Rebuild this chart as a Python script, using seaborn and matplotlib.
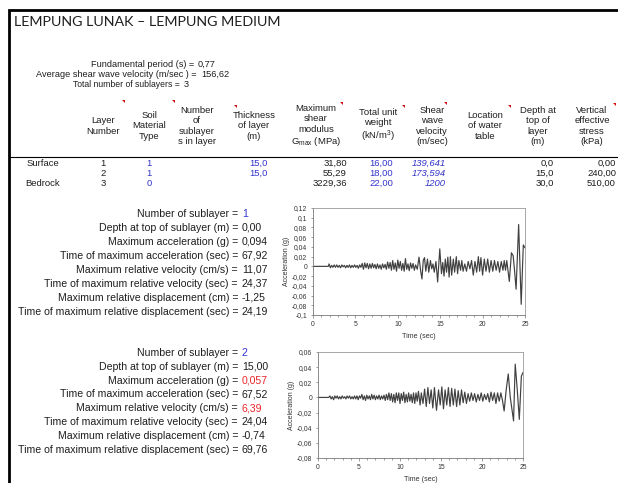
import matplotlib
matplotlib.use("Agg")
import matplotlib.pyplot as plt
import seaborn as sns
import pandas as pd
from matplotlib.ticker import FuncFormatter, MultipleLocator

sns.set_theme(style="white")
plt.rcParams['font.family'] = ['Liberation Sans', 'DejaVu Sans']
plt.rcParams['mathtext.fontset'] = 'custom'
plt.rcParams['mathtext.rm'] = 'Liberation Sans'
plt.rcParams['mathtext.it'] = 'Liberation Sans:italic'

# ---------------- data ----------------
title = "LEMPUNG LUNAK – LEMPUNG MEDIUM"
summary_labels = ["Fundamental period (s) =", "Average shear wave velocity (m/sec ) =", "Total number of sublayers ="]
summary_values = ["0,77", "156,62", "3"]

headers = ["Layer\nNumber", "Soil\nMaterial\nType", "Number\nof\nsublayer\ns in layer", "Thickness\nof layer\n(m)",
           "Maximum\nshear\nmodulus\nG$_{\\mathrm{max}}$ (MPa)", "Total unit\nweight\n(kN/m$^3$)",
           "Shear\nwave\nvelocity\n(m/sec)", "Location\nof water\ntable", "Depth at\ntop of\nlayer\n(m)",
           "Vertical\neffective\nstress\n(kPa)"]
layer_names = ["Surface", "", "Bedrock"]
layer_number = ["1", "2", "3"]
soil_type = ["1", "1", "0"]
thickness = ["15,0", "15,0", ""]
gmax = ["31,80", "55,29", "3229,36"]
unit_weight = ["16,00", "18,00", "22,00"]
shear_velocity = ["139,641", "173,594", "1200"]
depth_top = ["0,0", "15,0", "30,0"]
vert_stress = ["0,00", "240,00", "510,00"]

sub_labels = ["Number of sublayer =", "Depth at top of sublayer (m) =", "Maximum acceleration (g) =",
              "Time of maximum acceleration (sec) =", "Maximum relative velocity (cm/s) =",
              "Time of maximum relative velocity (sec) =", "Maximum relative displacement (cm) =",
              "Time of maximum relative displacement (sec) ="]
sub1_values = ["1", "0,00", "0,094", "67,92", "11,07", "24,37", "-1,25", "24,19"]
sub2_values = ["2", "15,00", "0,057", "67,52", "6,39", "24,04", "-0,74", "69,76"]

t1 = [0, 1.8, 1.9, 2.05, 2.2, 2.35, 2.5, 2.65, 2.8, 2.95, 3.1, 3.25, 3.4, 3.55, 3.7, 3.85, 4.0, 4.15, 4.3, 4.45,
      4.6, 4.75, 4.9, 5.05, 5.2, 5.35, 5.5, 5.65, 5.8, 5.95, 6.1, 6.25, 6.4, 6.55, 6.7, 6.85, 7.0, 7.15, 7.3, 7.45,
      7.6, 7.75, 7.9, 8.05, 8.2, 8.35, 8.5, 8.65, 8.8, 8.95, 9.1, 9.25, 9.4, 9.55, 9.7, 9.85, 10.0, 10.15, 10.3,
      10.45, 10.6, 10.75, 10.9, 11.05, 11.2, 11.35, 11.5, 11.65, 11.8, 11.95, 12.1, 12.3, 12.5, 12.7, 12.85, 13.0,
      13.15, 13.3, 13.5, 13.65, 13.85, 14.0, 14.15, 14.3, 14.5, 14.7, 14.95, 15.15, 15.3, 15.45, 15.6, 15.75, 15.9,
      16.05, 16.2, 16.35, 16.55, 16.7, 16.9, 17.05, 17.2, 17.4, 17.55, 17.7, 17.9, 18.1, 18.3, 18.5, 18.7, 18.9,
      19.1, 19.3, 19.5, 19.65, 19.8, 20.0, 20.2, 20.4, 20.6, 20.8, 21.0, 21.2, 21.4, 21.6, 21.8, 22.0, 22.2, 22.4,
      22.55, 22.7, 22.85, 23.0, 23.15, 23.4, 23.6, 23.75, 23.95, 24.25, 24.55, 24.8, 25.0]
acc1 = [0, 0, 0.005, -0.003, 0.002, -0.002, 0.003, -0.002, 0.003, -0.002, 0.002, -0.003, 0.003, -0.001, 0.002,
        -0.003, 0.002, -0.002, 0.003, -0.003, 0.002, -0.002, 0.003, -0.002, 0.002, -0.004, 0.003, -0.002, 0.006,
        -0.006, 0.007, -0.003, 0.006, -0.005, 0.005, -0.004, 0.006, -0.003, 0.004, -0.005, 0.005, -0.004, 0.003,
        -0.006, 0.005, -0.003, 0.004, -0.006, 0.009, -0.004, 0.008, -0.008, 0.012, -0.006, 0.007, -0.010, 0.013,
        -0.004, 0.010, -0.008, 0.006, -0.010, 0.016, -0.006, 0.005, -0.009, 0.007, -0.004, 0.006, -0.008, 0.003,
        -0.006, 0.019, -0.010, -0.026, 0.012, 0.018, -0.010, 0.015, -0.012, 0.012, -0.005, 0.005, -0.012, 0.010,
        -0.032, 0.036, -0.015, 0.008, -0.020, 0.015, -0.012, 0.019, -0.022, 0.020, -0.018, 0.015, -0.012, 0.020,
        -0.015, 0.012, -0.008, 0.012, -0.010, 0.005, -0.010, 0.010, -0.005, 0.012, -0.018, 0.010, -0.012, 0.020,
        -0.010, 0.018, -0.018, 0.015, -0.010, 0.015, -0.012, 0.012, -0.010, 0.012, -0.008, 0.010, -0.012, 0.010,
        -0.008, 0.012, -0.008, 0.012, -0.010, -0.031, 0.028, 0.022, -0.005, -0.047, 0.086, -0.078, 0.044, 0.038]

t2 = [0, 1.3, 1.45, 1.6, 1.75, 1.9, 2.05, 2.2, 2.35, 2.5, 2.65, 2.8, 2.95, 3.1, 3.25, 3.4, 3.55, 3.7, 3.85, 4.0,
      4.15, 4.3, 4.45, 4.6, 4.75, 4.9, 5.05, 5.2, 5.35, 5.5, 5.65, 5.8, 5.95, 6.1, 6.25, 6.4, 6.55, 6.7, 6.85, 7.0,
      7.15, 7.3, 7.45, 7.6, 7.75, 7.9, 8.05, 8.2, 8.35, 8.5, 8.65, 8.8, 8.95, 9.1, 9.25, 9.4, 9.55, 9.7, 9.85, 10.0,
      10.15, 10.3, 10.45, 10.6, 10.75, 10.9, 11.05, 11.2, 11.35, 11.5, 11.65, 11.8, 11.95, 12.1, 12.25, 12.45, 12.6,
      12.8, 13.0, 13.2, 13.4, 13.6, 13.8, 14.0, 14.2, 14.45, 14.7, 14.9, 15.1, 15.3, 15.5, 15.7, 15.9, 16.1, 16.3,
      16.5, 16.7, 16.9, 17.1, 17.3, 17.5, 17.7, 17.9, 18.1, 18.3, 18.5, 18.7, 18.9, 19.1, 19.3, 19.5, 19.7, 19.9,
      20.1, 20.3, 20.5, 20.7, 20.9, 21.1, 21.3, 21.5, 21.7, 21.9, 22.1, 22.3, 22.5, 22.7, 22.95, 23.2, 23.45, 23.6,
      23.85, 24.05, 24.3, 24.55, 24.8, 25.0]
acc2 = [0, 0, 0.002, -0.002, 0.001, -0.003, 0.002, -0.001, 0.002, -0.002, 0.001, -0.002, 0.002, -0.001, 0.001,
        -0.002, 0.002, -0.001, 0.002, -0.002, 0.001, -0.002, 0.002, -0.002, 0.002, -0.003, 0.002, -0.001, 0.004,
        -0.003, 0.002, -0.004, 0.003, -0.002, 0.002, -0.003, 0.004, -0.002, 0.003, -0.003, 0.002, -0.002, 0.003,
        -0.003, 0.002, -0.002, 0.003, -0.004, 0.004, -0.003, 0.006, -0.004, 0.005, -0.006, 0.004, -0.007, 0.006,
        -0.004, 0.006, -0.008, 0.005, -0.004, 0.007, -0.007, 0.004, -0.006, 0.006, -0.005, 0.004, -0.007, 0.006,
        -0.008, 0.006, -0.005, 0.008, -0.010, 0.006, -0.008, 0.011, -0.012, 0.013, -0.008, 0.010, -0.014, 0.013,
        -0.017, 0.010, -0.010, 0.014, -0.015, 0.010, -0.010, 0.013, -0.012, 0.012, -0.010, 0.011, -0.012, 0.009,
        -0.010, 0.010, -0.007, 0.007, -0.008, 0.005, -0.005, 0.006, -0.004, 0.005, -0.006, 0.004, -0.004, 0.006,
        -0.005, 0.004, -0.003, 0.005, -0.006, 0.007, -0.004, 0.006, -0.008, 0.006, -0.005, 0.006, -0.004, -0.018,
        0.010, 0.031, 0.000, -0.012, -0.031, 0.044, 0.010, -0.029, 0.028, 0.033]

# ---------------- figure ----------------
W, H = 618, 483
fig = plt.figure(figsize=(W / 100, H / 100), dpi=100)
fig.patch.set_facecolor("white")
bg = fig.add_axes([0, 0, 1, 1])
bg.set_xlim(0, W)
bg.set_ylim(H, 0)
bg.axis("off")

TXT = "#1e1e1e"
BLUE = "#3434cc"
RED = "#e8262c"

# frame
bg.plot([9, 9, W], [H, 10, 10], color="black", lw=2.0, solid_capstyle="butt", solid_joinstyle="miter")

bg.text(14, 21.5, title, fontsize=10.3, family=["Lato", "DejaVu Sans"], color=TXT, va="center", ha="left")

# summary
sum_eq_x = [194, 197, 180]
sum_fs = [6.6, 6.6, 6.2]
for i, (lab, val) in enumerate(zip(summary_labels, summary_values)):
    y = 64.5 + 10 * i
    bg.text(sum_eq_x[i], y, lab, fontsize=sum_fs[i], color=TXT, ha="right", va="center")
    bg.text(sum_eq_x[i] + 4, y, val, fontsize=6.6, color=TXT, ha="left", va="center")

# header
head_x = [103, 149, 197, 254, 316, 378, 432, 485, 538, 592]
for x, h in zip(head_x, headers):
    bg.text(x, 126, h, fontsize=6.8, color=TXT, ha="center", va="center", multialignment="center",
            linespacing=1.2)
# comment markers
for (mx, my) in [(125, 100), (175, 100), (237, 105), (343, 102), (405, 105), (447, 102), (511, 105), (616, 103)]:
    bg.fill([mx - 3, mx, mx], [my, my, my + 3], color="#d01010", lw=0)

bg.plot([9, W], [157, 157], color="black", lw=0.8)

# table rows
for i in range(3):
    y = 163 + 10.3 * i
    fs = 6.8
    bg.text(43, y, layer_names[i], fontsize=fs, color=TXT, ha="center", va="center")
    bg.text(103, y, layer_number[i], fontsize=fs, color=TXT, ha="center", va="center")
    bg.text(149, y, soil_type[i], fontsize=fs, color=BLUE, ha="center", va="center")
    bg.text(268, y, thickness[i], fontsize=fs, color=BLUE, ha="right", va="center")
    bg.text(347, y, gmax[i], fontsize=fs, color=TXT, ha="right", va="center")
    bg.text(393, y, unit_weight[i], fontsize=fs, color=BLUE, ha="right", va="center")
    bg.text(446, y, shear_velocity[i], fontsize=fs, color=BLUE, ha="right", va="center", style="italic")
    bg.text(554, y, depth_top[i], fontsize=fs, color=TXT, ha="right", va="center")
    bg.text(616, y, vert_stress[i], fontsize=fs, color=TXT, ha="right", va="center")

# sublayer blocks
def block(y0, dy, values, colors):
    for i, (lab, val, c) in enumerate(zip(sub_labels, values, colors)):
        y = y0 + dy * i
        bg.text(238, y, lab, fontsize=7.6, color=TXT, ha="right", va="center")
        bg.text(242, y, val, fontsize=7.6, color=c, ha="left", va="center")

block(214, 13.95, sub1_values, [BLUE] + [TXT] * 7)
block(353, 13.8, sub2_values, [BLUE, TXT, RED, TXT, RED, TXT, TXT, TXT])

# charts
def fmt(v, pos):
    v = round(v, 4)
    if abs(v) < 1e-9:
        return "0"
    return f"{v:g}".replace(".", ",")

def chart(rect, t, a, ylo, yhi):
    l, r, top, bot = rect
    ax = fig.add_axes([l / W, 1 - bot / H, (r - l) / W, (bot - top) / H])
    df = pd.DataFrame({"Time (sec)": t, "Acceleration (g)": a})
    sns.lineplot(data=df, x="Time (sec)", y="Acceleration (g)", ax=ax, color="#404040", lw=0.85)
    ax.set_xlim(0, 25)
    ax.set_ylim(ylo, yhi)
    ax.xaxis.set_major_locator(MultipleLocator(5))
    ax.xaxis.set_minor_locator(MultipleLocator(1))
    ax.yaxis.set_major_locator(MultipleLocator(0.02))
    ax.yaxis.set_major_formatter(FuncFormatter(fmt))
    ax.tick_params(axis="both", which="both", direction="out", length=1.8, width=0.5, color="#777777",
                   labelsize=4.9, labelcolor="#333333", pad=2.5)
    ax.tick_params(axis="x", which="minor", length=1.2)
    ax.tick_params(axis="both", which="both", bottom=True, left=True)
    for s in ax.spines.values():
        s.set_color("#9a9a9a")
        s.set_linewidth(0.6)
    ax.spines["left"].set_color("#777777")
    ax.spines["bottom"].set_color("#777777")
    ax.set_xlabel("Time (sec)", fontsize=5.1, color="#333333", labelpad=3.5)
    ax.set_ylabel("Acceleration (g)", fontsize=5.0, color="#333333", labelpad=1.0)
    ax.set_facecolor("white")
    ax.grid(False)
    return ax

chart((313, 525, 208, 315), t1, acc1, -0.1, 0.12)
chart((318, 523, 352, 458), t2, acc2, -0.08, 0.06)

fig.savefig("out.png", dpi=100, facecolor="white")
